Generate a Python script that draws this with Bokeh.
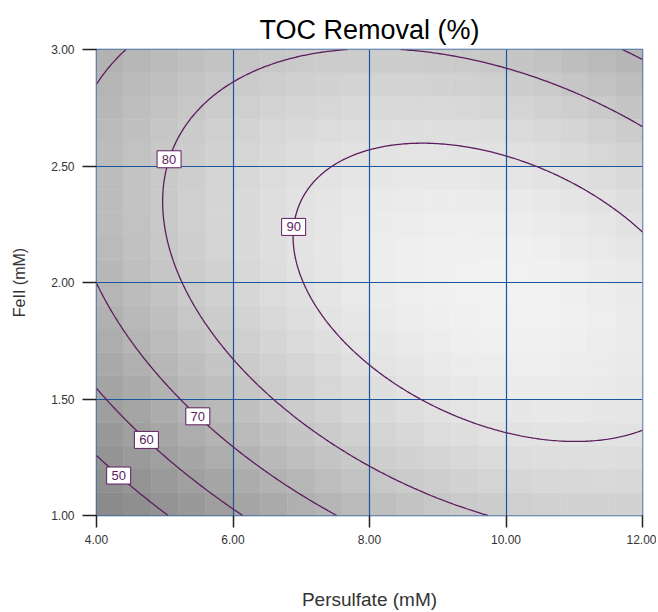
import numpy as np
from bokeh.plotting import figure
from bokeh.models import FixedTicker, PrintfTickFormatter, ColumnDataSource
from bokeh.core.properties import value
from bokeh.embed import file_html
from bokeh.resources import INLINE

# ---- data ----
x_limits = [4.0, 12.0]          # Persulfate (mM)
y_limits = [1.0, 3.0]           # FeII (mM)
x_ticks = [4.0, 6.0, 8.0, 10.0, 12.0]
y_ticks = [1.0, 1.5, 2.0, 2.5, 3.0]

contour_levels = [50, 60, 70, 80, 90]

# points (Persulfate, FeII)
lvl90_x = [6.84, 6.99, 7.43, 8.89, 10.36, 12.0, 12.0, 10.8, 10.0, 8.75]
lvl90_y = [2.24, 2.00, 2.50, 2.58, 2.50, 2.21, 1.365, 1.318, 1.36, 1.50]
lvl80_x = [5.03, 4.97, 5.23, 6.59, 7.43, 7.99, 9.73, 6.0, 8.0, 10.0, 12.0]
lvl80_y = [2.53, 2.33, 2.00, 1.50, 1.32, 1.215, 1.00, 2.85, 2.995, 2.91, 2.657]
lvl70_x = [4.0, 4.98, 5.55, 5.99, 7.43, 4.0, 4.44]
lvl70_y = [2.00, 1.58, 1.446, 1.28, 1.00, 2.85, 3.00]
lvl60_x = [4.0, 4.79, 6.0]
lvl60_y = [1.54, 1.343, 1.0]
lvl50_x = [4.0, 4.38, 5.04]
lvl50_y = [1.25, 1.19, 1.0]
# estimated value at the top-right corner (no 70 line reaches it)
corner_x = [12.0]
corner_y = [3.0]
corner_z = [70.5]

# contour label boxes
label_text = ["50", "60", "70", "80", "90"]
label_x = [4.38, 4.79, 5.55, 5.03, 6.84]
label_y = [1.19, 1.343, 1.446, 2.532, 2.24]

n_cells_x = 20
n_cells_y = 20

# ---- fit a quadratic response surface to the read contour points ----
px, py, pz = [], [], []
for lev, xs, ys in ((90, lvl90_x, lvl90_y), (80, lvl80_x, lvl80_y), (70, lvl70_x, lvl70_y),
                    (60, lvl60_x, lvl60_y), (50, lvl50_x, lvl50_y)):
    px += xs; py += ys; pz += [lev] * len(xs)
px += corner_x; py += corner_y; pz += corner_z
px, py, pz = np.array(px), np.array(py), np.array(pz, dtype=float)


def design(x, y):
    A = (np.asarray(x) - 8.0) / 4.0
    B = (np.asarray(y) - 2.0) / 1.0
    return np.stack([np.ones_like(A), A, B, A * B, A * A, B * B], axis=-1)


sx, sy = 68.25, 233.0  # pixels per data unit (for geometric weighting)


def grad_screen(c, x, y):
    A = (x - 8.0) / 4.0
    B = (y - 2.0)
    dA = c[1] + c[3] * B + 2 * c[4] * A
    dB = c[2] + c[3] * A + 2 * c[5] * B
    return np.hypot(dA / 4.0 / sx, dB / sy)


coef = np.linalg.lstsq(design(px, py), pz, rcond=None)[0]
for _ in range(6):
    w = 1.0 / np.maximum(grad_screen(coef, px, py), 1e-3)
    coef = np.linalg.lstsq(design(px, py) * w[:, None], pz * w, rcond=None)[0]


def toc(x, y):
    return design(x, y) @ coef


def gray_of(z):
    t = np.clip((z - 40.0) / 56.0, 0, 1) ** 1.5
    g = int(round(138 + 104 * t))
    return "#%02x%02x%02x" % (g, g, g)


p = figure(width=656, height=612, x_range=tuple(x_limits), y_range=tuple(y_limits),
           output_backend="svg", toolbar_location=None,
           min_border_left=96, min_border_right=14, min_border_top=49, min_border_bottom=97,
           title="TOC Removal (%)")

# background shaded cells
xe = np.linspace(x_limits[0], x_limits[1], n_cells_x + 1)
ye = np.linspace(y_limits[0], y_limits[1], n_cells_y + 1)
L, R, B_, T, C = [], [], [], [], []
for i in range(n_cells_x):
    for j in range(n_cells_y):
        cx = 0.5 * (xe[i] + xe[i + 1])
        cy = 0.5 * (ye[j] + ye[j + 1])
        L.append(xe[i]); R.append(xe[i + 1]); B_.append(ye[j]); T.append(ye[j + 1])
        C.append(gray_of(float(toc(cx, cy))))
cells = ColumnDataSource(dict(left=L, right=R, bottom=B_, top=T, color=C))
qr = p.quad(left="left", right="right", bottom="bottom", top="top", source=cells,
            fill_color="color", line_color="color", line_width=0.5)
qr.level = "image"

# contour lines
xf = np.linspace(x_limits[0], x_limits[1], 241)
yf = np.linspace(y_limits[0], y_limits[1], 241)
XX, YY = np.meshgrid(xf, yf)
ZZ = toc(XX, YY)
p.contour(x=XX, y=YY, z=ZZ, levels=contour_levels, line_color="#5c1d5e", line_width=1.3)

# contour labels, snapped onto their contour
lx, ly = [], []
for lev, x0, y0 in zip(contour_levels, label_x, label_y):
    x, y = x0, y0
    for _ in range(5):
        h = 1e-5
        z = float(toc(x, y))
        gx = (float(toc(x + h, y)) - z) / h
        gy = (float(toc(x, y + h)) - z) / h
        gxs, gys = gx / sx, gy / sy
        d = (z - lev) / (gxs ** 2 + gys ** 2)
        x -= d * gxs / sx
        y -= d * gys / sy
    lx.append(x); ly.append(y)
lab = ColumnDataSource(dict(x=lx, y=ly, text=label_text))
p.rect(x="x", y="y", width=24, height=17, width_units="screen", height_units="screen",
       source=lab, fill_color="white", line_color="#5c1d5e", line_width=1)
p.text(x="x", y="y", text="text", source=lab, text_align="center", text_baseline="middle",
       text_font=value("Liberation Sans"), text_font_size="13px", text_color="#5c1d5e")

# axes
for ax, ticks in ((p.xaxis, x_ticks), (p.yaxis, y_ticks)):
    ax.ticker = FixedTicker(ticks=ticks)
    ax.formatter = PrintfTickFormatter(format="%.2f")
    ax.major_label_text_font = "Liberation Sans"
    ax.major_label_text_font_size = "12px"
    ax.major_label_text_color = "#333333"
    ax.axis_line_color = None
    ax.major_tick_line_color = "#222222"
    ax.major_tick_line_width = 1.5
    ax.major_tick_in = 0
    ax.minor_tick_line_color = None
    ax.axis_label_text_font = "Liberation Sans"
    ax.axis_label_text_font_style = "normal"
    ax.axis_label_text_color = "#333333"
p.xaxis.major_tick_out = 12
p.yaxis.major_tick_out = 14
p.xaxis.major_label_standoff = 7
p.yaxis.major_label_standoff = 8
p.xaxis.axis_label = "Persulfate (mM)"
p.yaxis.axis_label = "FeII (mM)"
p.xaxis.axis_label_text_font_size = "19px"
p.yaxis.axis_label_text_font_size = "16px"
p.xaxis.axis_label_standoff = 42
p.yaxis.axis_label_standoff = 20

p.xgrid.ticker = FixedTicker(ticks=x_ticks)
p.ygrid.ticker = FixedTicker(ticks=y_ticks)
p.grid.grid_line_color = "#1a55a0"
p.grid.grid_line_width = 1.2
p.grid.grid_line_alpha = 1

p.outline_line_color = "#2c5f9e"
p.outline_line_width = 1.5

p.title.align = "center"
p.title.text_font = "Liberation Sans"
p.title.text_font_size = "27px"
p.title.text_font_style = "normal"
p.title.text_color = "#000000"
p.title.standoff = 10

p.background_fill_color = "white"
p.border_fill_color = "white"

open("out.html", "w").write(file_html(p, INLINE))
